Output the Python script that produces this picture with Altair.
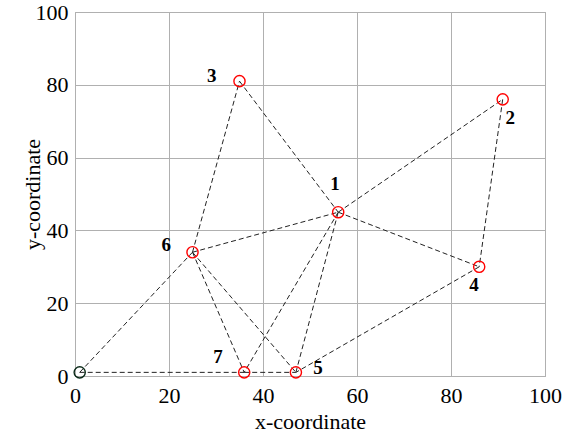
import altair as alt
import pandas as pd

node_ids = ["0", "1", "2", "3", "4", "5", "6", "7"]
node_x = [1, 56, 91, 35, 86, 47, 25, 36]
node_y = [1, 45, 76, 81, 30, 1, 34, 1]

label_text = ["1", "2", "3", "4", "5", "6", "7"]
label_x = [55.3, 92.6, 29.1, 84.9, 51.7, 19.4, 30.4]
label_y = [52.8, 70.8, 82.3, 25.0, 2.1, 36.0, 5.1]

edge_from = ["0", "0", "7", "6", "3", "1", "2", "4", "5", "1", "6", "6", "6", "1"]
edge_to   = ["6", "7", "5", "3", "1", "2", "4", "5", "1", "7", "1", "7", "5", "4"]

pos = {n: (x, y) for n, x, y in zip(node_ids, node_x, node_y)}
rows = []
for i, (a, b) in enumerate(zip(edge_from, edge_to)):
    rows.append({"edge": i, "o": 0, "x": pos[a][0], "y": pos[a][1]})
    rows.append({"edge": i, "o": 1, "x": pos[b][0], "y": pos[b][1]})
edges = pd.DataFrame(rows)

nodes = pd.DataFrame({"id": node_ids, "x": node_x, "y": node_y,
                      "kind": ["depot"] + ["customer"] * 7})
labels = pd.DataFrame({"t": label_text, "x": label_x, "y": label_y})

FONT = "Liberation Serif"
xs = alt.Scale(domain=[0, 100], nice=False)
ys = alt.Scale(domain=[0, 100], nice=False)
xax = alt.Axis(values=[0, 20, 40, 60, 80, 100], title="x-coordinate", grid=True,
               labelFont=FONT, titleFont=FONT, labelPadding=9, labelFlush=False,
               titleBaseline="middle", titleY=45, titleX=235)
yax = alt.Axis(values=[0, 20, 40, 60, 80, 100], title="y-coordinate", grid=True,
               labelFont=FONT, titleFont=FONT, labelPadding=7, labelFlush=False,
               titleBaseline="middle", titleX=-43, titleY=182)

lines = alt.Chart(edges).mark_line(
    color="#222222", strokeWidth=1, strokeDash=[5, 3]
).encode(
    x=alt.X("x:Q", scale=xs, axis=xax),
    y=alt.Y("y:Q", scale=ys, axis=yax),
    detail="edge:N",
    order="o:Q",
)

pts = alt.Chart(nodes).mark_point(
    shape="circle", filled=False, size=125, strokeWidth=1.4, opacity=1
).encode(
    x=alt.X("x:Q", scale=xs),
    y=alt.Y("y:Q", scale=ys),
    color=alt.Color("kind:N",
                    scale=alt.Scale(domain=["depot", "customer"],
                                    range=["#0a2a18", "#ff0000"]),
                    legend=None),
)

txt = alt.Chart(labels).mark_text(
    font=FONT, fontSize=19, fontWeight="bold", color="black"
).encode(
    x=alt.X("x:Q", scale=xs),
    y=alt.Y("y:Q", scale=ys),
    text="t:N",
)

chart = alt.layer(lines, pts, txt).properties(
    width=470, height=364,
    autosize=alt.AutoSizeParams(type="none"),
    padding={"left": 75, "top": 12, "right": 34, "bottom": 61},
).configure(
    font=FONT
).configure_view(
    stroke="#a0a0a0", strokeWidth=1
).configure_axis(
    labelFontSize=22, titleFontSize=22,
    labelColor="black", titleColor="black", titleFontWeight="normal",
    ticks=False, domain=False, gridColor="#b0b0b0", gridOpacity=1,
)

chart.save("out.html", embed_options={"renderer": "svg", "actions": False})
